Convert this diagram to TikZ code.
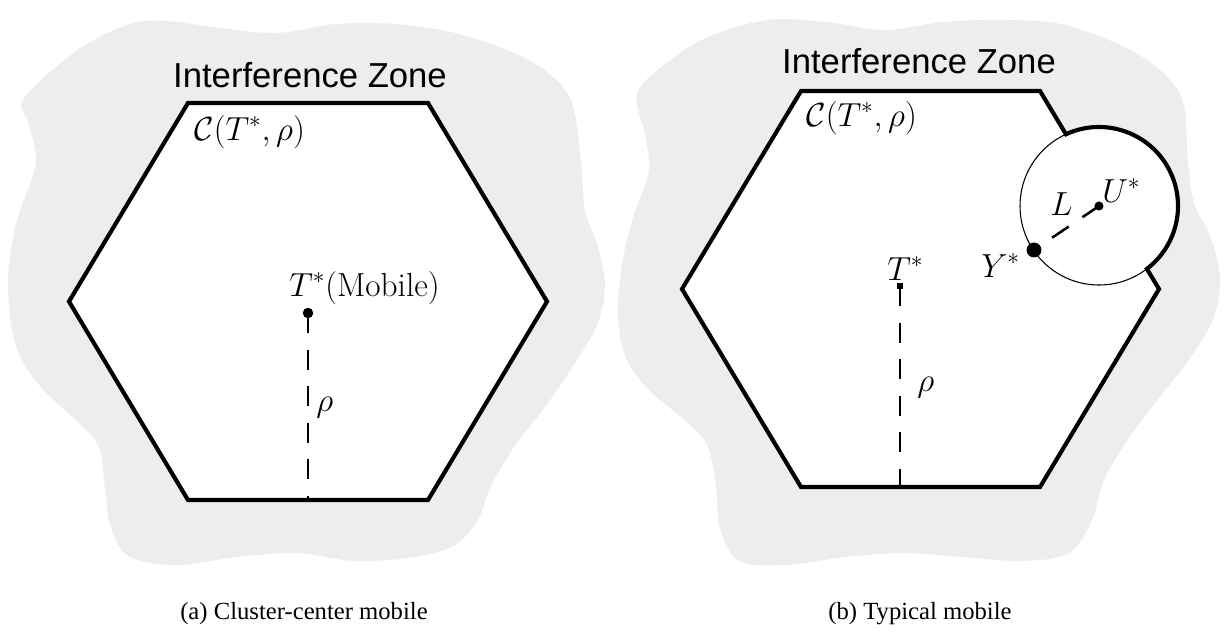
\RequirePackage{fix-cm}
\documentclass[tikz,border=0pt]{standalone}
\usepackage{fontspec}
\newfontfamily\izfont{Liberation Sans}
\newfontfamily\capfont{Liberation Serif}
\begin{document}
\begin{tikzpicture}[x=0.75pt,y=-0.75pt,
  zone/.style={fill=black!7, draw=none},
  hexline/.style={line width=3.1pt, line join=miter},
  thinline/.style={line width=0.8pt},
  dashline/.style={line width=1.9pt, dash pattern=on 15pt off 12.45pt},
  mathlbl/.style={inner sep=0pt, anchor=base west, font=\fontsize{25}{30}\selectfont},
  izlbl/.style={inner sep=0pt, anchor=base, font=\izfont\fontsize{26}{30}\selectfont},
  caplbl/.style={inner sep=0pt, anchor=base, font=\capfont\fontsize{18.5}{22}\selectfont},
  dotnode/.style={circle, fill=black, inner sep=0pt, minimum size=#1},
  sqnode/.style={rectangle, fill=black, inner sep=0pt, minimum size=#1},
]
\fill[white] (0,0) rectangle (1225,637);
\useasboundingbox (0,0) rectangle (1225,637);

% ---------- (a) ----------
\fill[zone] plot[smooth cycle, tension=0.55] coordinates {
 (24,98) (79,49) (130,24) (166,21) (221,28) (277,33) (336,24) (395,24) (455,33)
 (514,53) (553,77) (573,106) (581,163) (585,211) (597,244) (605,285) (597,325)
 (573,366) (545,407) (514,447) (490,488) (478,520) (455,545) (415,557) (356,561)
 (296,553) (237,557) (178,565) (130,557) (111,528) (105,488) (99,447) (79,423)
 (40,386) (16,346) (8,285) (16,224) (36,163) (28,122)};

\coordinate (a1) at (188,103);
\coordinate (a2) at (428,103);
\coordinate (a3) at (547,301.5);
\coordinate (a4) at (428,500);
\coordinate (a5) at (188,500);
\coordinate (a6) at (69,301.5);
\draw[hexline, fill=white] (a1) -- (a2) -- (a3) -- (a4) -- (a5) -- (a6) -- cycle;

\node[izlbl] (iza) at (310,87) {Interference Zone};
\node[mathlbl] (ca) at (194,140) {$\mathcal{C}(T^*,\rho)$};

\coordinate (ba) at (308,500);
\node[dotnode=7.9pt] (ta) at (308,313) {};
\draw[dashline] (ta.center) -- (ba);
\node[mathlbl] (tal) at (289,296) {$T^*$(Mobile)};
\node[mathlbl] (rhoa) at (316,411) {$\rho$};

\node[caplbl] (capa) at (304,619) {(a) Cluster-center mobile};

% ---------- (b) ----------
\fill[zone] plot[smooth cycle, tension=0.55] coordinates {
 (637,93) (669,61) (708,37) (767,20) (826,22) (885,30) (943,22) (1002,20) (1061,24)
 (1120,45) (1159,69) (1183,102) (1188,163) (1194,203) (1210,236) (1220,276)
 (1214,317) (1190,358) (1159,398) (1128,439) (1104,480) (1092,520) (1069,553)
 (1022,561) (963,557) (904,553) (845,557) (786,565) (739,561) (720,528) (716,488)
 (708,447) (688,423) (649,390) (626,358) (618,317) (622,264) (634,215) (649,171)
 (645,134)};

\coordinate (b1) at (801,91);
\coordinate (b2) at (1040,91);
\coordinate (b3) at (1159,289);
\coordinate (b4) at (1040,487);
\coordinate (b5) at (801,487);
\coordinate (b6) at (682,289);
\coordinate (uc) at (1099,206);
\coordinate (p1) at (1065.98,134.23);

\fill[white] (b1) -- (b2) -- (b3) -- (b4) -- (b5) -- (b6) -- cycle;
\fill[white] (uc) circle[radius=79];
\draw[thinline] (uc) circle[radius=79];
\draw[hexline] (b1) -- (b2) -- (p1) arc[start angle=-114.71, end angle=52.70, radius=79]
  -- (b3) -- (b4) -- (b5) -- (b6) -- cycle;

\node[izlbl] (izb) at (919,73) {Interference Zone};
\node[mathlbl] (cb) at (806,126) {$\mathcal{C}(T^*,\rho)$};

\coordinate (bb) at (900,487);
\node[sqnode=4.5pt] (tb) at (900,286) {};
\draw[dashline] (tb.center) -- (bb);
\node[mathlbl] (tbl) at (887,280) {$T^*$};
\node[mathlbl] (rhob) at (917,391) {$\rho$};

\node[dotnode=6.8pt] (u) at (uc) {};
\node[dotnode=11.2pt] (y) at (1034,250) {};
\draw[dashline] (u.center) -- (y.center);
\node[mathlbl] (ul) at (1102,202) {$U^*$};
\node[mathlbl] (ll) at (1050,215) {$L$};
\node[mathlbl] (yl) at (981,277) {$Y^*$};

\node[caplbl] (capb) at (920,619) {(b) Typical mobile};
\end{tikzpicture}
\end{document}
